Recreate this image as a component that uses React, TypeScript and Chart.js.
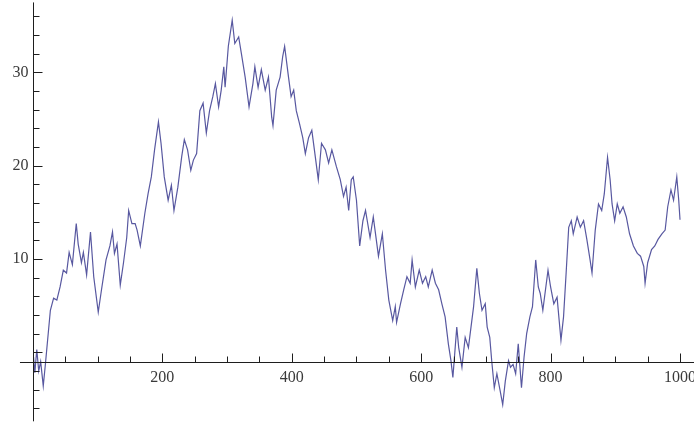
import React, { useEffect, useRef } from "react";
import { Chart, registerables } from "chart.js";

Chart.register(...registerables);

// Random-walk samples (step index, value)
const stepX: number[] = [
  1, 3, 6, 9, 12, 16, 19, 21, 27, 32, 37, 42, 47, 52, 56, 61, 67, 70, 75, 78,
  83, 89, 94, 101, 106, 113, 119, 123, 126, 130, 135, 140, 145, 148, 153, 158, 161, 166, 173, 178,
  183, 188, 194, 198, 203, 209, 214, 218, 224, 230, 234, 239, 244, 248, 253, 258, 263, 268, 273, 278,
  282, 287, 291, 295, 297, 302, 308, 312, 318, 322, 328, 334, 340, 343, 348, 353, 359, 364, 369, 371,
  376, 382, 386, 389, 395, 399, 403, 407, 412, 417, 421, 426, 431, 435, 441, 446, 452, 457, 462, 469,
  475, 480, 484, 488, 492, 495, 500, 505, 510, 514, 521, 526, 534, 540, 545, 550, 556, 560, 562, 568,
  573, 578, 583, 586, 591, 597, 602, 607, 611, 617, 622, 627, 632, 637, 642, 646, 649, 655, 658, 663,
  668, 673, 677, 681, 686, 690, 694, 699, 702, 706, 709, 713, 717, 722, 726, 730, 735, 738, 742, 746,
  750, 755, 759, 763, 768, 772, 777, 781, 784, 788, 796, 800, 805, 810, 816, 820, 824, 828, 832, 835,
  841, 846, 851, 856, 861, 864, 869, 874, 879, 883, 888, 892, 895, 899, 903, 907, 912, 917, 922, 928,
  934, 939, 944, 946, 950, 956, 961, 966, 972, 977, 981, 986, 990, 995, 998, 1000,
];

const walkValue: number[] = [
  -0.5, -2.2, 0.3, -2.0, -1.0, -3.6, -1.5, 0.0, 4.5, 5.8, 5.6, 7.0, 8.8, 8.5, 10.7, 9.4, 13.8, 11.6, 9.6, 10.7,
  8.3, 12.9, 8.1, 4.3, 6.7, 9.9, 11.4, 12.9, 10.6, 11.6, 7.2, 9.6, 12.3, 15.2, 13.8, 13.8, 13.1, 11.4, 14.9, 17.0,
  18.8, 21.7, 24.7, 22.4, 18.8, 16.3, 17.9, 15.2, 17.7, 21.0, 22.8, 21.7, 19.5, 20.6, 21.3, 25.9, 26.7, 23.5, 25.9, 27.4,
  28.8, 26.3, 28.1, 30.6, 28.4, 32.8, 35.6, 33.1, 33.8, 32.1, 29.5, 26.3, 28.8, 30.6, 28.4, 30.3, 28.1, 29.5, 25.2, 24.3,
  28.1, 29.5, 31.7, 32.8, 29.5, 27.4, 28.1, 25.9, 24.5, 23.0, 21.3, 23.0, 23.8, 21.7, 18.5, 22.4, 21.7, 20.3, 21.7, 19.9,
  18.5, 16.7, 17.7, 15.2, 18.5, 18.8, 16.3, 11.4, 14.1, 15.2, 12.3, 14.5, 10.3, 12.7, 8.8, 5.6, 3.4, 4.9, 3.2, 5.2,
  6.7, 8.1, 7.4, 9.9, 7.0, 8.8, 7.4, 8.1, 7.0, 8.8, 7.4, 6.7, 5.2, 3.8, 0.9, -0.9, -2.7, 2.7, 0.5, -1.6,
  1.6, 0.5, 2.7, 4.9, 9.0, 6.3, 4.5, 5.2, 2.7, 1.6, -0.9, -3.8, -2.3, -4.1, -5.6, -3.1, -0.9, -1.6, -1.3, -2.3,
  0.9, -3.8, -0.5, 2.0, 3.8, 4.9, 9.9, 7.0, 6.3, 4.5, 8.8, 7.0, 5.2, 5.9, 1.3, 3.8, 8.5, 13.4, 14.1, 12.7,
  14.5, 13.4, 14.1, 12.1, 9.9, 8.5, 13.1, 15.9, 15.2, 17.0, 20.9, 18.5, 15.9, 14.1, 15.9, 14.9, 15.6, 14.5, 12.7, 11.4,
  10.6, 10.3, 9.2, 7.4, 9.6, 11.0, 11.4, 12.1, 12.7, 13.1, 15.6, 17.4, 16.3, 18.8, 16.3, 14.2,
];

// Axis ticks and labels
const xMajorTicks: number[] = [200, 400, 600, 800, 1000];
const xTickLabels: string[] = ["200", "400", "600", "800", "1000"];
const xMinorTicks: number[] = [
  50, 100, 150, 250, 300, 350, 450, 500, 550, 650, 700, 750, 850, 900, 950,
];
const yMajorTicks: number[] = [0, 10, 20, 30];
const yLabelTicks: number[] = [10, 20, 30];
const yTickLabels: string[] = ["10", "20", "30"];
const yMinorTicks: number[] = [
  -6, -4, -2, 2, 4, 6, 8, 12, 14, 16, 18, 22, 24, 26, 28, 32, 34, 36,
];

// Where the axes cross (data coordinates) and their extents
const AXIS_CROSS_X = 0.5;
const AXIS_CROSS_Y = -1.05;
const X_AXIS_FROM = -20;
const Y_AXIS_FROM = -7.4;
const Y_AXIS_TO = 37.5;

const axesPlugin = {
  id: "mmaAxes",
  afterDatasetsDraw(chart: any) {
    const { ctx } = chart;
    const xs = chart.scales.x;
    const ys = chart.scales.y;
    const ox = Math.round(xs.getPixelForValue(AXIS_CROSS_X)) + 0.5;
    const oy = Math.round(ys.getPixelForValue(AXIS_CROSS_Y)) + 0.5;
    ctx.save();
    ctx.strokeStyle = "#1e1e1e";
    ctx.lineWidth = 1;
    ctx.beginPath();
    ctx.moveTo(xs.getPixelForValue(X_AXIS_FROM), oy);
    ctx.lineTo(chart.width, oy);
    ctx.moveTo(ox, ys.getPixelForValue(Y_AXIS_TO));
    ctx.lineTo(ox, ys.getPixelForValue(Y_AXIS_FROM));
    // x ticks (pointing up, into the plot)
    for (const v of xMajorTicks) {
      const p = Math.round(xs.getPixelForValue(v)) + 0.5;
      ctx.moveTo(p, oy);
      ctx.lineTo(p, oy - 9);
    }
    for (const v of xMinorTicks) {
      const p = Math.round(xs.getPixelForValue(v)) + 0.5;
      ctx.moveTo(p, oy);
      ctx.lineTo(p, oy - 6);
    }
    // y ticks (pointing right)
    for (const v of yMajorTicks) {
      const p = Math.round(ys.getPixelForValue(v)) + 0.5;
      ctx.moveTo(ox, p);
      ctx.lineTo(ox + 9, p);
    }
    for (const v of yMinorTicks) {
      const p = Math.round(ys.getPixelForValue(v)) + 0.5;
      ctx.moveTo(ox, p);
      ctx.lineTo(ox + 6, p);
    }
    ctx.stroke();

    ctx.fillStyle = "#3a3a3a";
    ctx.font = '16px "Liberation Serif", "Times New Roman", serif';
    ctx.textAlign = "center";
    ctx.textBaseline = "middle";
    xMajorTicks.forEach((v, i) => {
      ctx.fillText(xTickLabels[i], xs.getPixelForValue(v), oy + 15.5);
    });
    ctx.textAlign = "right";
    yLabelTicks.forEach((v, i) => {
      ctx.fillText(yTickLabels[i], ox - 5, ys.getPixelForValue(v));
    });
    ctx.restore();
  },
};

export default function App() {
  const canvasRef = useRef<HTMLCanvasElement | null>(null);

  useEffect(() => {
    if (!canvasRef.current) return;
    const points = stepX.map((x, i) => ({ x, y: walkValue[i] }));
    const chart = new Chart(canvasRef.current, {
      type: "line",
      data: {
        datasets: [
          {
            data: points,
            borderColor: "rgb(88, 88, 160)",
            borderWidth: 1.2,
            pointRadius: 0,
            tension: 0,
            fill: false,
          },
        ],
      },
      options: {
        animation: false,
        responsive: false,
        devicePixelRatio: 1,
        layout: { padding: 0 },
        plugins: {
          legend: { display: false },
          tooltip: { enabled: false },
        },
        scales: {
          x: { type: "linear", min: -50.84, max: 1021.6, display: false },
          y: { type: "linear", min: -7.58, max: 37.76, display: false },
        },
      },
      plugins: [axesPlugin],
    });
    return () => chart.destroy();
  }, []);

  return (
    <div
      style={{
        position: "fixed",
        left: 0,
        top: 0,
        width: 694,
        height: 423,
        background: "#ffffff",
      }}
    >
      <canvas ref={canvasRef} width={694} height={423} />
    </div>
  );
}
